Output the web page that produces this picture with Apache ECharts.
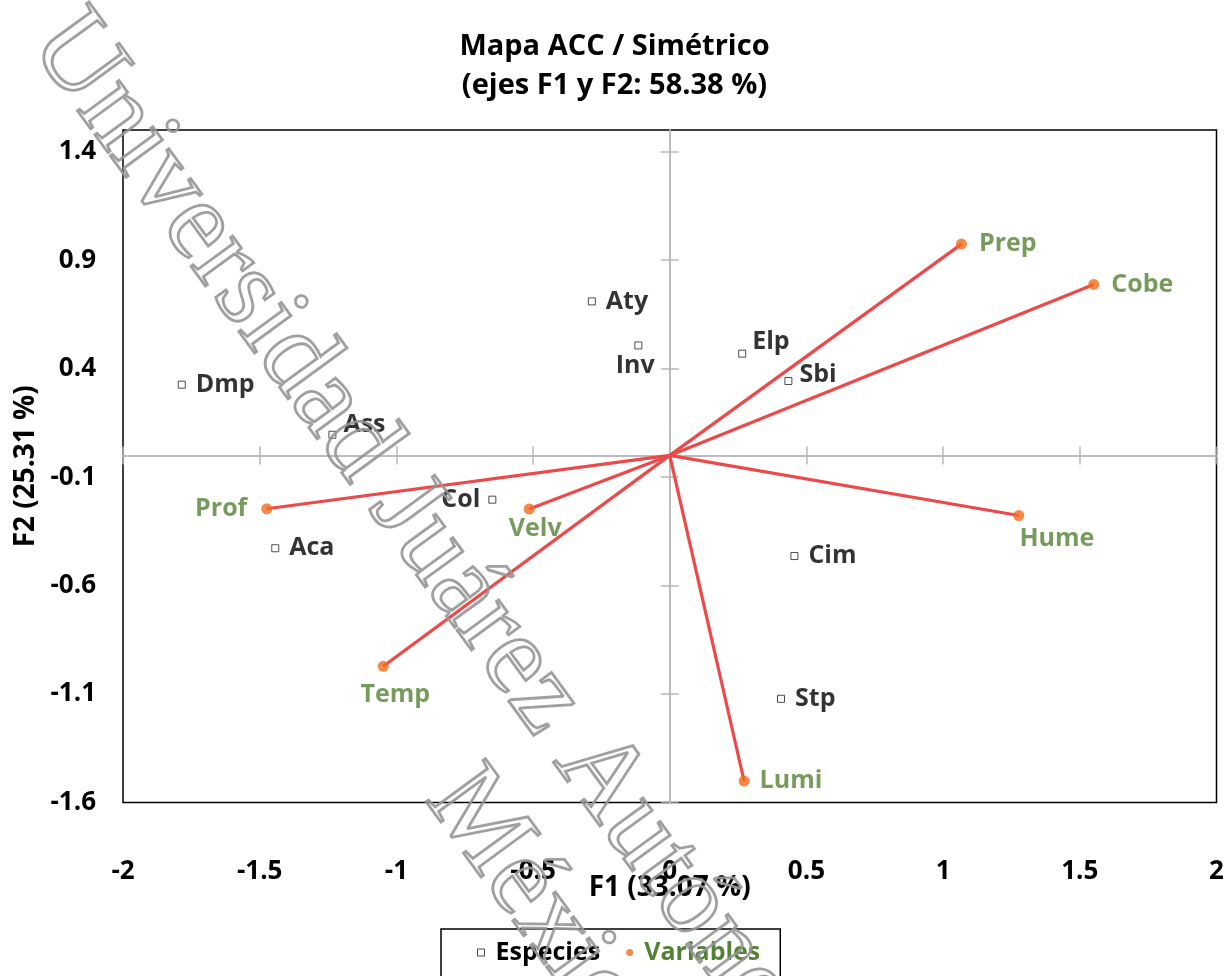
<!DOCTYPE html>
<html><head><meta charset="utf-8">
<script src="https://cdn.jsdelivr.net/npm/echarts@6/dist/echarts.min.js"></script>
<style>html,body{margin:0;padding:0;background:#fff}#c{width:1229px;height:976px}</style>
</head><body><div id="c"></div>
<script>
// ---- data ----
const speciesNames = ['Dmp','Ass','Aca','Col','Aty','Inv','Elp','Sbi','Cim','Stp'];
const speciesF1 = [-1.785,-1.234,-1.443,-0.649,-0.285,-0.115,0.265,0.434,0.456,0.407];
const speciesF2 = [0.326,0.095,-0.428,-0.204,0.710,0.507,0.469,0.343,-0.464,-1.122];
const varNames = ['Prep','Cobe','Hume','Lumi','Temp','Velv','Prof'];
const varF1 = [1.067,1.551,1.277,0.272,-1.048,-0.514,-1.474];
const varF2 = [0.974,0.788,-0.277,-1.501,-0.972,-0.247,-0.246];
const xTicks = [-2,-1.5,-1,-0.5,0,0.5,1,1.5,2];
const yTicks = [-1.6,-1.1,-0.6,-0.1,0.4,0.9,1.4];
const titleText = 'Mapa ACC / Simétrico\n(ejes F1 y F2: 58.38 %)';
const xName = 'F1 (33.07 %)';
const yName = 'F2 (25.31 %)';
const watermark1 = 'Universidad Juárez Autónoma de Tabasco';
const watermark2 = 'México';

// ---- styles ----
const FONT = '"Open Sans", Lato, sans-serif';
const GREEN = '#548235';
const ORANGE = '#f26b1d';
const RED = '#ec4a4a';
const GREY = '#b8b8b8';
const LBL = {fontFamily: FONT, fontWeight: 'bold', fontSize: 26, color: '#000'};
const NAME = {fontFamily: FONT, fontWeight: 'bold', fontSize: 28, color: '#000'};
const WM = {font: '112px "Liberation Serif"', fill: 'rgba(255,255,255,0)', stroke: 'rgba(150,150,150,0.9)', lineWidth: 2.8, align: 'left', verticalAlign: 'middle'};

const speciesLabel = {
  Dmp: {position: 'right', distance: 10},
  Ass: {position: 'right', distance: 7, offset: [0, -10]},
  Aca: {position: 'right', distance: 10},
  Col: {position: 'left', distance: 8},
  Aty: {position: 'right', distance: 10},
  Inv: {position: 'bottom', distance: 4, offset: [-3, 0]},
  Elp: {position: 'right', distance: 6, offset: [0, -12]},
  Sbi: {position: 'right', distance: 7, offset: [0, -6]},
  Cim: {position: 'right', distance: 10},
  Stp: {position: 'right', distance: 10}
};
const varLabel = {
  Prep: {position: 'right', distance: 12},
  Cobe: {position: 'right', distance: 12},
  Hume: {position: 'bottom', distance: 5, offset: [38, 0]},
  Lumi: {position: 'right', distance: 10},
  Temp: {position: 'bottom', distance: 11, offset: [12, 0]},
  Velv: {position: 'bottom', distance: 2, offset: [6, 0]},
  Prof: {position: 'left', distance: 14}
};

const fmt = v => String(Math.round(v * 10) / 10);

const chart = echarts.init(document.getElementById('c'), null, {renderer: 'canvas'});
const zeroAxisX = (pos) => ({
  type: 'value', min: -2, max: 2, interval: 0.5, position: pos, gridIndex: 0,
  axisLine: {show: true, onZero: true, onZeroAxisIndex: 0, lineStyle: {color: GREY, width: 1.5}},
  axisTick: {show: true, length: 9, lineStyle: {color: GREY, width: 1.5}},
  axisLabel: {show: false}, splitLine: {show: false}
});
const zeroAxisY = (pos) => ({
  type: 'value', min: -1.6, max: 1.5, position: pos, gridIndex: 0,
  axisLine: {show: true, onZero: true, onZeroAxisIndex: 0, lineStyle: {color: GREY, width: 1.5}},
  axisTick: {show: true, length: 9, customValues: yTicks, lineStyle: {color: GREY, width: 1.5}},
  axisLabel: {show: false}, splitLine: {show: false}
});

chart.setOption({
  backgroundColor: '#fff',
  animation: false,
  title: {
    text: titleText, left: 'center', top: 22,
    textStyle: {fontFamily: FONT, fontWeight: 'bold', fontSize: 29, lineHeight: 39, color: '#000'}
  },
  grid: {
    left: 123, right: 12.5, top: 130, bottom: 173.5,
    show: true, borderColor: '#000', borderWidth: 1.5, backgroundColor: 'transparent',
    containLabel: false, outerBoundsMode: 'none'
  },
  legend: {
    left: 441, top: 929, orient: 'horizontal',
    padding: [11, 20, 20, 36], itemWidth: 7, itemHeight: 7, itemGap: 26,
    borderColor: '#000', borderWidth: 1.5, selectedMode: false,
    textStyle: {fontFamily: FONT, fontWeight: 'bold', fontSize: 25, padding: [0, 0, 0, 6]},
    data: [
      {name: 'Especies', icon: 'rect', itemStyle: {color: '#fff', borderColor: '#222', borderWidth: 1}, textStyle: {color: '#000'}},
      {name: 'Variables', icon: 'circle', itemStyle: {color: ORANGE}, textStyle: {color: GREEN}}
    ]
  },
  xAxis: [
    {
      type: 'value', min: -2, max: 2, interval: 0.5, position: 'bottom', gridIndex: 0,
      axisLine: {show: false, onZero: false}, axisTick: {show: false}, splitLine: {show: false},
      axisLabel: Object.assign({margin: 56, formatter: fmt, customValues: xTicks}, LBL),
      name: xName, nameLocation: 'middle', nameGap: 72, nameMoveOverlap: false, nameTextStyle: NAME
    },
    zeroAxisX('bottom'),
    zeroAxisX('top')
  ],
  yAxis: [
    {
      type: 'value', min: -1.6, max: 1.5, position: 'left', gridIndex: 0,
      axisLine: {show: false, onZero: false}, axisTick: {show: false}, splitLine: {show: false},
      axisLabel: Object.assign({margin: 27, formatter: fmt, customValues: yTicks}, LBL),
      name: yName, nameLocation: 'middle', nameGap: 83, nameRotate: 90, nameMoveOverlap: false, nameTextStyle: NAME
    },
    zeroAxisY('left'),
    zeroAxisY('right')
  ],
  series: [
    {
      type: 'lines', coordinateSystem: 'cartesian2d', xAxisIndex: 0, yAxisIndex: 0,
      silent: true, z: 3,
      lineStyle: {color: RED, width: 3.2, opacity: 1, curveness: 0},
      data: varNames.map((n, i) => ({coords: [[0, 0], [varF1[i], varF2[i]]]}))
    },
    {
      name: 'Variables', type: 'scatter', xAxisIndex: 0, yAxisIndex: 0, z: 4,
      symbol: 'circle', symbolSize: 11, itemStyle: {color: ORANGE},
      label: {show: true, formatter: '{b}', fontFamily: FONT, fontWeight: 'bold', fontSize: 25, color: GREEN},
      data: varNames.map((n, i) => ({name: n, value: [varF1[i], varF2[i]], label: varLabel[n]}))
    },
    {
      name: 'Especies', type: 'scatter', xAxisIndex: 0, yAxisIndex: 0, z: 4,
      symbol: 'rect', symbolSize: 7, itemStyle: {color: '#fff', borderColor: '#222', borderWidth: 1},
      label: {show: true, formatter: '{b}', fontFamily: FONT, fontWeight: 'bold', fontSize: 25, color: '#000'},
      data: speciesNames.map((n, i) => ({name: n, value: [speciesF1[i], speciesF2[i]], label: speciesLabel[n]}))
    }
  ],
  graphic: [
    {type: 'text', x: 52, y: 26, rotation: -0.94, z: 100, silent: true, style: Object.assign({text: watermark1}, WM)},
    {type: 'text', x: 448, y: 782, rotation: -0.94, z: 100, silent: true, style: Object.assign({text: watermark2}, WM)}
  ]
});
</script>
</body></html>
